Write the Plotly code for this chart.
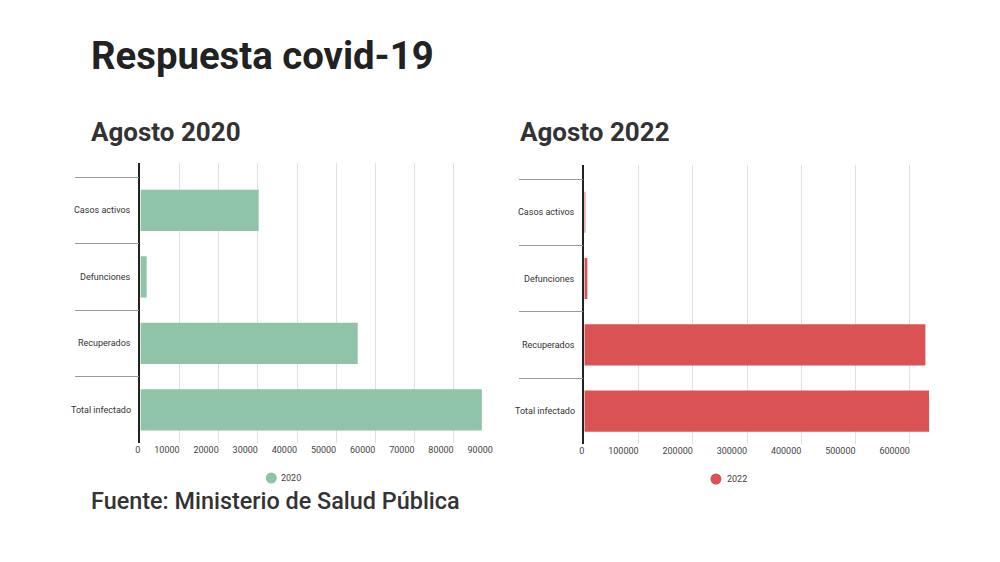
import plotly.graph_objects as go

# Data
categorias = ["Casos activos", "Defunciones", "Recuperados", "Total infectado"]
valores_2020 = [30200, 1600, 55500, 87200]
valores_2022 = [1500, 5500, 628800, 635500]
ticks_2020 = [0, 10000, 20000, 30000, 40000, 50000, 60000, 70000, 80000, 90000]
ticks_2022 = [0, 100000, 200000, 300000, 400000, 500000, 600000]
anios = ["2020", "2022"]

VERDE = "#8fc4a8"
ROJO = "#db5253"
W, H = 1000, 562
DX, DY, S = 12.5, 8.5, 0.9958  # page offset / scale of the plot div


def fx(p):
    return (p - DX) / S / W


def fy(p):
    return 1 - (p - DY) / S / H


def fxt(p):
    # annotation text has a few px of inner padding
    return (p - DX - 3) / S / W


fig = go.Figure()

fig.add_trace(go.Bar(
    y=categorias, x=valores_2020, orientation="h", name=anios[0],
    marker=dict(color=VERDE, line=dict(width=0)),
    xaxis="x", yaxis="y", showlegend=False,
))
fig.add_trace(go.Bar(
    y=categorias, x=valores_2022, orientation="h", name=anios[1],
    marker=dict(color=ROJO, line=dict(width=0)),
    xaxis="x2", yaxis="y2", showlegend=False,
))

eje_x = dict(
    showgrid=True, gridcolor="#e0e0e0", gridwidth=1,
    zeroline=False, showline=False,
    ticks="", ticklabelposition="outside left",
    tickfont=dict(family="Roboto", size=9, color="#444"),
    fixedrange=True,
)
eje_y = dict(
    type="category", categoryorder="array", categoryarray=categorias,
    showgrid=False, zeroline=False,
    showline=True, linecolor="#222", linewidth=1.5,
    ticks="outside", tickson="boundaries", ticklen=64,
    tickcolor="#999999", tickwidth=1.2,
    showticklabels=False, fixedrange=True,
)

fig.update_layout(
    width=W, height=H,
    margin=dict(l=0, r=0, t=0, b=0),
    paper_bgcolor="white", plot_bgcolor="white",
    bargap=0.38, showlegend=False,
    font=dict(family="Roboto", color="#333"),
    xaxis=dict(eje_x, domain=[fx(140), fx(492.7)], range=[0, 90000], anchor="y",
               tickvals=ticks_2020, ticktext=[str(t) for t in ticks_2020]),
    yaxis=dict(eje_y, domain=[fy(441.7), fy(163)], range=[3.5, -0.71], anchor="x"),
    xaxis2=dict(eje_x, domain=[fx(584.3), fx(931.7)], range=[0, 640000], anchor="y2",
                tickvals=ticks_2022, ticktext=[str(t) for t in ticks_2022]),
    yaxis2=dict(eje_y, domain=[fy(443), fy(165)], range=[3.5, -0.71], anchor="x2"),
)

# category labels next to the separators
for ax_y, ax_x in (("y", "x"), ("y2", "x2")):
    for c in categorias:
        fig.add_annotation(
            x=-0.02, xref=f"{ax_x} domain", y=c, yref=ax_y,
            text=c, showarrow=False, xanchor="right", yanchor="middle",
            font=dict(family="Roboto", size=9, color="#333"),
        )

# legends (round markers, text close to the marker)
for anio, color, cx, cy, tx in ((anios[0], VERDE, 271, 476.5, 282),
                               (anios[1], ROJO, 716, 477.5, 728)):
    r = 5.5
    fig.add_shape(type="circle", xref="paper", yref="paper",
                  x0=fx(cx - r), x1=fx(cx + r), y0=fy(cy + r), y1=fy(cy - r),
                  fillcolor=color, line=dict(width=0))
    fig.add_annotation(
        x=fxt(tx), y=fy(cy), xref="paper", yref="paper", text=anio,
        showarrow=False, xanchor="left", yanchor="middle",
        font=dict(family="Roboto", size=9, color="#444"),
    )

fig.add_annotation(
    x=fxt(92), y=fy(56), xref="paper", yref="paper", text="<b>Respuesta covid-19</b>",
    showarrow=False, xanchor="left", yanchor="middle",
    font=dict(family="Roboto", size=38.3, color="#222"),
)
fig.add_annotation(
    x=fxt(92), y=fy(132), xref="paper", yref="paper", text="<b>Agosto 2020</b>",
    showarrow=False, xanchor="left", yanchor="middle",
    font=dict(family="Roboto", size=26, color="#333"),
)
fig.add_annotation(
    x=fxt(521), y=fy(132), xref="paper", yref="paper", text="<b>Agosto 2022</b>",
    showarrow=False, xanchor="left", yanchor="middle",
    font=dict(family="Roboto", size=26, color="#333"),
)
fig.add_annotation(
    x=fxt(92), y=fy(499), xref="paper", yref="paper",
    text="Fuente: Ministerio de Salud Pública",
    showarrow=False, xanchor="left", yanchor="middle",
    font=dict(family="Roboto", size=23.4, color="#333", weight=500),
)

fig.write_html("out.html")
